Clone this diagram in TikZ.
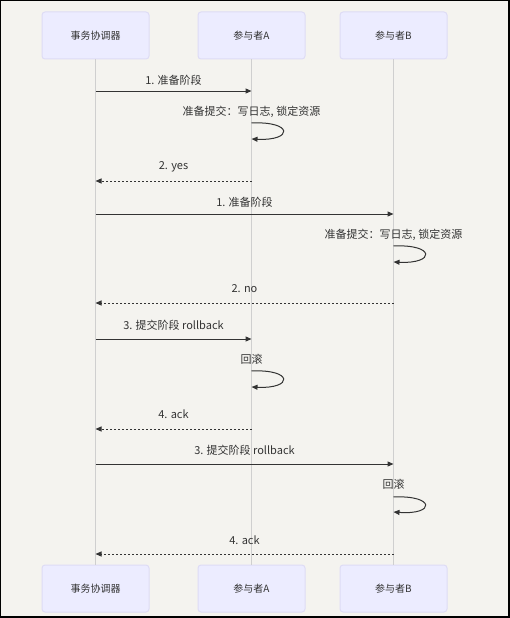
\documentclass[tikz,border=0pt]{standalone}
\usepackage{fontspec}
\setmainfont{Noto Sans CJK SC}
\usetikzlibrary{arrows.meta}
\definecolor{bg}{HTML}{F4F3EF}
\definecolor{actfill}{HTML}{ECECFF}
\definecolor{actdraw}{HTML}{DEDCF5}
\definecolor{life}{HTML}{CFCFCF}
\definecolor{ink}{HTML}{333333}
\tikzset{
  actor/.style={draw=actdraw, line width=1pt, fill=actfill, rounded corners=3pt,
    minimum width=107pt, minimum height=47pt, inner sep=0pt, text=ink,
    font=\fontsize{10}{12}\selectfont},
  lifeline/.style={draw=life, line width=1pt},
  msg/.style={draw=ink, line width=1pt, -{Triangle[length=6pt,width=5pt]}},
  reply/.style={msg, dash pattern=on 2pt off 2pt},
  lbl/.style={text=ink, inner sep=0pt, font=\fontsize{11}{13}\selectfont},
}
\begin{document}
\begin{tikzpicture}[x=1pt,y=-1pt]
\useasboundingbox (0,0) rectangle (510,618);
\fill[black] (0,0) rectangle (510,618);
\fill[bg] (1,1) rectangle (508,616);
% actors
\node[actor] (ct) at (95.5,35.5) {事务协调器};
\node[actor] (pa) at (251.5,35.5) {参与者A};
\node[actor] (pb) at (393.5,35.5) {参与者B};
\node[actor] (ctb) at (95.5,588.5) {事务协调器};
\node[actor] (pab) at (251.5,588.5) {参与者A};
\node[actor] (pbb) at (393.5,588.5) {参与者B};
% lifelines
\draw[lifeline] (ct.south) -- (ctb.north);
\draw[lifeline] (pa.south) -- (pab.north);
\draw[lifeline] (pb.south) -- (pbb.north);
% 1 to A
\draw[msg] (ct|-0,91) -- (pa|-0,91);
\node[lbl] (m1) at (173.5,80) {1. 准备阶段};
% self A
\node[lbl] (s1) at (251.5,112) {准备提交：写日志, 锁定资源};
\draw[msg] (pa|-0,123) .. controls ([xshift=42pt]pa|-0,121) and ([xshift=42pt]pa|-0,141) .. (pa|-0,139);
% 2 yes
\draw[reply] (pa|-0,181) -- (ct|-0,181);
\node[lbl] (m2) at (173.5,167) {2. yes};
% 1 to B
\draw[msg] (ct|-0,214) -- (pb|-0,214);
\node[lbl] (m3) at (244.5,202) {1. 准备阶段};
% self B
\node[lbl] (s2) at (393.5,235) {准备提交：写日志, 锁定资源};
\draw[msg] (pb|-0,246) .. controls ([xshift=42pt]pb|-0,244) and ([xshift=42pt]pb|-0,264) .. (pb|-0,262);
% 2 no
\draw[reply] (pb|-0,303) -- (ct|-0,303);
\node[lbl] (m4) at (244.5,289) {2. no};
% 3 rollback A
\draw[msg] (ct|-0,339) -- (pa|-0,339);
\node[lbl] (m5) at (173.5,325) {3. 提交阶段 rollback};
% self A rollback
\node[lbl] (s3) at (251.5,359) {回滚};
\draw[msg] (pa|-0,371) .. controls ([xshift=42pt]pa|-0,369) and ([xshift=42pt]pa|-0,389) .. (pa|-0,387);
% 4 ack A
\draw[reply] (pa|-0,429) -- (ct|-0,429);
\node[lbl] (m6) at (173.5,414) {4. ack};
% 3 rollback B
\draw[msg] (ct|-0,464) -- (pb|-0,464);
\node[lbl] (m7) at (244.5,450) {3. 提交阶段 rollback};
% self B rollback
\node[lbl] (s4) at (393.5,484) {回滚};
\draw[msg] (pb|-0,497) .. controls ([xshift=42pt]pb|-0,495) and ([xshift=42pt]pb|-0,515) .. (pb|-0,512);
% 4 ack B
\draw[reply] (pb|-0,554) -- (ct|-0,554);
\node[lbl] (m8) at (244.5,540) {4. ack};
\end{tikzpicture}
\end{document}
